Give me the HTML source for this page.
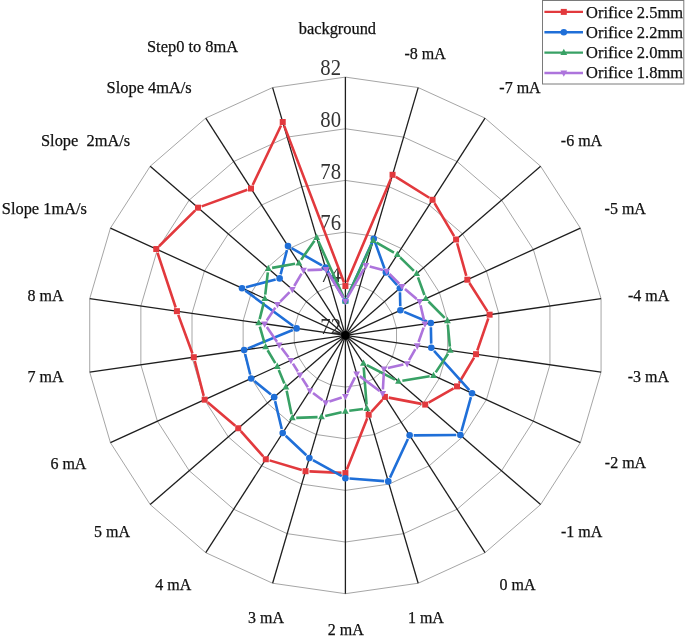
<!DOCTYPE html>
<html><head><meta charset="utf-8"><style>html,body{margin:0;padding:0;background:#fff;}svg{display:block;will-change:transform;}text{font-family:"Liberation Serif",serif;}</style></head><body>
<svg width="685" height="642" viewBox="0 0 685 642">
<rect width="685" height="642" fill="#fff"/>
<polygon points="345.4,283.74 359.95,285.83 373.33,291.94 384.44,301.57 392.39,313.94 396.53,328.05 396.53,342.75 392.39,356.86 384.44,369.23 373.33,378.86 359.95,384.97 345.4,387.06 330.85,384.97 317.47,378.86 306.36,369.23 298.41,356.86 294.27,342.75 294.27,328.05 298.41,313.94 306.36,301.57 317.47,291.94 330.85,285.83" fill="none" stroke="#a6a6a6" stroke-width="1"/>
<polygon points="345.4,232.08 374.51,236.27 401.26,248.48 423.48,267.74 439.38,292.48 447.67,320.7 447.67,350.1 439.38,378.32 423.48,403.06 401.26,422.32 374.51,434.53 345.4,438.72 316.29,434.53 289.54,422.32 267.32,403.06 251.42,378.32 243.13,350.1 243.13,320.7 251.42,292.48 267.32,267.74 289.54,248.48 316.29,236.27" fill="none" stroke="#a6a6a6" stroke-width="1"/>
<polygon points="345.4,180.42 389.06,186.7 429.19,205.02 462.53,233.91 486.37,271.02 498.8,313.34 498.8,357.46 486.37,399.78 462.53,436.89 429.19,465.78 389.06,484.1 345.4,490.38 301.74,484.1 261.61,465.78 228.27,436.89 204.43,399.78 192,357.46 192,313.34 204.43,271.02 228.27,233.91 261.61,205.02 301.74,186.7" fill="none" stroke="#a6a6a6" stroke-width="1"/>
<polygon points="345.4,128.76 403.62,137.13 457.12,161.56 501.57,200.08 533.37,249.56 549.94,305.99 549.94,364.81 533.37,421.24 501.57,470.72 457.12,509.24 403.62,533.67 345.4,542.04 287.18,533.67 233.68,509.24 189.23,470.72 157.43,421.24 140.86,364.81 140.86,305.99 157.43,249.56 189.23,200.08 233.68,161.56 287.18,137.13" fill="none" stroke="#a6a6a6" stroke-width="1"/>
<polygon points="345.4,77.1 418.17,87.56 485.05,118.1 540.61,166.25 580.36,228.1 601.07,298.64 601.07,372.16 580.36,442.7 540.61,504.55 485.05,552.7 418.17,583.24 345.4,593.7 272.63,583.24 205.75,552.7 150.19,504.55 110.44,442.7 89.73,372.16 89.73,298.64 110.44,228.1 150.19,166.25 205.75,118.1 272.63,87.56" fill="none" stroke="#a6a6a6" stroke-width="1"/>
<text transform="translate(341.0,333.6) scale(0.9,1)" font-size="23" fill="#333" text-anchor="end">72</text>
<text transform="translate(341.0,281.94) scale(0.9,1)" font-size="23" fill="#333" text-anchor="end">74</text>
<text transform="translate(341.0,230.28) scale(0.9,1)" font-size="23" fill="#333" text-anchor="end">76</text>
<text transform="translate(341.0,178.62) scale(0.9,1)" font-size="23" fill="#333" text-anchor="end">78</text>
<text transform="translate(341.0,126.96) scale(0.9,1)" font-size="23" fill="#333" text-anchor="end">80</text>
<text transform="translate(341.0,75.3) scale(0.9,1)" font-size="23" fill="#333" text-anchor="end">82</text>
<line x1="345.4" y1="335.4" x2="345.4" y2="77.1" stroke="#1e1e1e" stroke-width="1.3"/>
<line x1="345.4" y1="335.4" x2="418.17" y2="87.56" stroke="#1e1e1e" stroke-width="1.3"/>
<line x1="345.4" y1="335.4" x2="485.05" y2="118.1" stroke="#1e1e1e" stroke-width="1.3"/>
<line x1="345.4" y1="335.4" x2="540.61" y2="166.25" stroke="#1e1e1e" stroke-width="1.3"/>
<line x1="345.4" y1="335.4" x2="580.36" y2="228.1" stroke="#1e1e1e" stroke-width="1.3"/>
<line x1="345.4" y1="335.4" x2="601.07" y2="298.64" stroke="#1e1e1e" stroke-width="1.3"/>
<line x1="345.4" y1="335.4" x2="601.07" y2="372.16" stroke="#1e1e1e" stroke-width="1.3"/>
<line x1="345.4" y1="335.4" x2="580.36" y2="442.7" stroke="#1e1e1e" stroke-width="1.3"/>
<line x1="345.4" y1="335.4" x2="540.61" y2="504.55" stroke="#1e1e1e" stroke-width="1.3"/>
<line x1="345.4" y1="335.4" x2="485.05" y2="552.7" stroke="#1e1e1e" stroke-width="1.3"/>
<line x1="345.4" y1="335.4" x2="418.17" y2="583.24" stroke="#1e1e1e" stroke-width="1.3"/>
<line x1="345.4" y1="335.4" x2="345.4" y2="593.7" stroke="#1e1e1e" stroke-width="1.3"/>
<line x1="345.4" y1="335.4" x2="272.63" y2="583.24" stroke="#1e1e1e" stroke-width="1.3"/>
<line x1="345.4" y1="335.4" x2="205.75" y2="552.7" stroke="#1e1e1e" stroke-width="1.3"/>
<line x1="345.4" y1="335.4" x2="150.19" y2="504.55" stroke="#1e1e1e" stroke-width="1.3"/>
<line x1="345.4" y1="335.4" x2="110.44" y2="442.7" stroke="#1e1e1e" stroke-width="1.3"/>
<line x1="345.4" y1="335.4" x2="89.73" y2="372.16" stroke="#1e1e1e" stroke-width="1.3"/>
<line x1="345.4" y1="335.4" x2="89.73" y2="298.64" stroke="#1e1e1e" stroke-width="1.3"/>
<line x1="345.4" y1="335.4" x2="110.44" y2="228.1" stroke="#1e1e1e" stroke-width="1.3"/>
<line x1="345.4" y1="335.4" x2="150.19" y2="166.25" stroke="#1e1e1e" stroke-width="1.3"/>
<line x1="345.4" y1="335.4" x2="205.75" y2="118.1" stroke="#1e1e1e" stroke-width="1.3"/>
<line x1="345.4" y1="335.4" x2="272.63" y2="87.56" stroke="#1e1e1e" stroke-width="1.3"/>
<circle cx="345.4" cy="335.4" r="4.3" fill="#000"/>
<path d="M346.92 282.47L391.03 178.39M395.86 176.87L429.23 197.74M434.53 203.16L454.09 236.14M457.14 243.25L466.29 275.95M469.44 283L487.5 311.38M488.33 318.36L477.31 350.5M474.06 357.54L458.99 383.01M453.62 388.31L428.62 402.64M421.41 403.85L388.75 397.63M382.29 399.78L371.31 411.83M367.24 418.33L346.85 469.45M341.5 472.89L309.42 471.4M301.79 470.09L269.54 460.38M263.21 456.34L240.82 431.18M235.26 425.73L207.63 402.2M203.69 395.9L194.75 360.98M192.44 353.54L178.26 314.84M175.68 307.47L157.49 252.72M159.03 246.28L195.24 210.43M201.68 206.36L247.33 189.84M252.68 184.99L281.06 125.53M284.14 125.66L344.01 282.42" fill="none" stroke="#e2393d" stroke-width="2.6"/>
<rect x="342.4" y="283.06" width="6.0" height="6.0" fill="#e2393d"/>
<rect x="389.56" y="171.8" width="6.0" height="6.0" fill="#e2393d"/>
<rect x="429.54" y="196.81" width="6.0" height="6.0" fill="#e2393d"/>
<rect x="453.08" y="236.49" width="6.0" height="6.0" fill="#e2393d"/>
<rect x="464.34" y="276.71" width="6.0" height="6.0" fill="#e2393d"/>
<rect x="486.6" y="311.67" width="6.0" height="6.0" fill="#e2393d"/>
<rect x="473.05" y="351.18" width="6.0" height="6.0" fill="#e2393d"/>
<rect x="454.01" y="383.37" width="6.0" height="6.0" fill="#e2393d"/>
<rect x="422.24" y="401.58" width="6.0" height="6.0" fill="#e2393d"/>
<rect x="381.92" y="393.89" width="6.0" height="6.0" fill="#e2393d"/>
<rect x="365.69" y="411.71" width="6.0" height="6.0" fill="#e2393d"/>
<rect x="342.4" y="470.07" width="6.0" height="6.0" fill="#e2393d"/>
<rect x="302.52" y="468.21" width="6.0" height="6.0" fill="#e2393d"/>
<rect x="262.8" y="456.26" width="6.0" height="6.0" fill="#e2393d"/>
<rect x="235.23" y="425.26" width="6.0" height="6.0" fill="#e2393d"/>
<rect x="201.66" y="396.67" width="6.0" height="6.0" fill="#e2393d"/>
<rect x="190.79" y="354.2" width="6.0" height="6.0" fill="#e2393d"/>
<rect x="173.91" y="308.18" width="6.0" height="6.0" fill="#e2393d"/>
<rect x="153.26" y="246.02" width="6.0" height="6.0" fill="#e2393d"/>
<rect x="195.02" y="204.69" width="6.0" height="6.0" fill="#e2393d"/>
<rect x="248" y="185.51" width="6.0" height="6.0" fill="#e2393d"/>
<rect x="279.74" y="119.01" width="6.0" height="6.0" fill="#e2393d"/>
<path d="M347.1 297.31L372.08 242.47M375.17 242.6L384.51 268.53M388.61 275.46L397.15 285.13M399.96 292.31L400.28 306.19M404.16 311.89L427.02 321.53M430.88 327.22L431.22 343.65M434.04 350.81L469.31 390.18M470.94 397.18L461.48 431.08M456.28 435.06L413.74 435.33M407.91 439.07L389.99 477.66M384.17 481.08L349.49 478.54M341.82 476.24L312.96 460.08M306.39 455.27L285.68 435.78M281.75 428.98L275.1 401.13M270.97 394.55L254.36 381.02M250.2 374.45L245.14 353.94M247.95 348.4L292.78 329.94M293.27 325.95L245.32 290.62M245.99 287.15L275.65 279.43M280.64 274.43L286.97 250.06M291.56 248.13L321.9 265.46M327.56 271.02L343.31 297.52" fill="none" stroke="#1f6fd8" stroke-width="2.6"/>
<circle cx="345.4" cy="301.05" r="3.3" fill="#1f6fd8"/>
<circle cx="373.78" cy="238.74" r="3.3" fill="#1f6fd8"/>
<circle cx="385.9" cy="272.38" r="3.3" fill="#1f6fd8"/>
<circle cx="399.86" cy="288.21" r="3.3" fill="#1f6fd8"/>
<circle cx="400.38" cy="310.29" r="3.3" fill="#1f6fd8"/>
<circle cx="430.79" cy="323.12" r="3.3" fill="#1f6fd8"/>
<circle cx="431.31" cy="347.75" r="3.3" fill="#1f6fd8"/>
<circle cx="472.04" cy="393.24" r="3.3" fill="#1f6fd8"/>
<circle cx="460.38" cy="435.03" r="3.3" fill="#1f6fd8"/>
<circle cx="409.64" cy="435.36" r="3.3" fill="#1f6fd8"/>
<circle cx="388.26" cy="481.38" r="3.3" fill="#1f6fd8"/>
<circle cx="345.4" cy="478.24" r="3.3" fill="#1f6fd8"/>
<circle cx="309.38" cy="458.08" r="3.3" fill="#1f6fd8"/>
<circle cx="282.7" cy="432.97" r="3.3" fill="#1f6fd8"/>
<circle cx="274.15" cy="397.14" r="3.3" fill="#1f6fd8"/>
<circle cx="251.18" cy="378.43" r="3.3" fill="#1f6fd8"/>
<circle cx="244.15" cy="349.96" r="3.3" fill="#1f6fd8"/>
<circle cx="296.57" cy="328.38" r="3.3" fill="#1f6fd8"/>
<circle cx="242.02" cy="288.19" r="3.3" fill="#1f6fd8"/>
<circle cx="279.61" cy="278.4" r="3.3" fill="#1f6fd8"/>
<circle cx="288" cy="246.09" r="3.3" fill="#1f6fd8"/>
<circle cx="325.46" cy="267.49" r="3.3" fill="#1f6fd8"/>
<path d="M347.03 297.5L371.57 244.27M376.58 242.67L393.97 252.63M400.12 257.31L413.88 270.92M417.98 277.33L424.42 295.04M428.49 301.48L444.68 317.95M447.78 324.62L449.86 346.59M448.07 353.72L435.67 372.39M429.66 376.27L402.35 380.77M395.03 379.63L366.89 365.21M363.71 367.32L366.57 404.62M363 409.02L349.27 410.83M341.6 412.23L325.26 416.05M317.56 417.08L296.23 417.83M291.54 414.15L286.66 390.81M284.35 383.4L278.77 370.11M275.28 363.16L267.62 350.23M264.55 343.12L259.81 326.69M259.67 319.15L263.86 302.38M265.26 294.72L267.84 272.46M272.13 267.89L295.06 263.74M301.12 259.84L314.43 240.71M318.26 241.06L343.79 297.49" fill="none" stroke="#38a165" stroke-width="2.6"/>
<polygon points="345.4,297.14 342,303.44 348.8,303.44" fill="#38a165"/>
<polygon points="373.2,236.82 369.8,243.12 376.6,243.12" fill="#38a165"/>
<polygon points="397.35,250.66 393.95,256.96 400.75,256.96" fill="#38a165"/>
<polygon points="416.65,269.75 413.25,276.05 420.05,276.05" fill="#38a165"/>
<polygon points="425.76,294.8 422.36,301.1 429.16,301.1" fill="#38a165"/>
<polygon points="447.41,316.83 444.01,323.13 450.81,323.13" fill="#38a165"/>
<polygon points="450.23,346.57 446.83,352.87 453.63,352.87" fill="#38a165"/>
<polygon points="433.51,371.73 430.11,378.03 436.91,378.03" fill="#38a165"/>
<polygon points="398.5,377.5 395.1,383.8 401.9,383.8" fill="#38a165"/>
<polygon points="363.41,359.53 360.01,365.83 366.81,365.83" fill="#38a165"/>
<polygon points="366.87,404.61 363.47,410.91 370.27,410.91" fill="#38a165"/>
<polygon points="345.4,407.43 342,413.73 348.8,413.73" fill="#38a165"/>
<polygon points="321.46,413.03 318.06,419.33 324.86,419.33" fill="#38a165"/>
<polygon points="292.33,414.07 288.93,420.37 295.73,420.37" fill="#38a165"/>
<polygon points="285.86,383.08 282.46,389.38 289.26,389.38" fill="#38a165"/>
<polygon points="277.26,362.61 273.86,368.91 280.66,368.91" fill="#38a165"/>
<polygon points="265.63,342.96 262.23,349.26 269.03,349.26" fill="#38a165"/>
<polygon points="258.73,319.03 255.33,325.33 262.13,325.33" fill="#38a165"/>
<polygon points="264.81,294.69 261.41,300.99 268.21,300.99" fill="#38a165"/>
<polygon points="268.29,264.68 264.89,270.98 271.69,270.98" fill="#38a165"/>
<polygon points="298.9,259.13 295.5,265.43 302.3,265.43" fill="#38a165"/>
<polygon points="316.66,233.6 313.26,239.9 320.06,239.9" fill="#38a165"/>
<path d="M347.35 297.67L363.97 268.89M369.69 266.52L382.97 270.07M389.49 273.84L399.25 283.59M404.97 288.89L416.69 298.95M420.54 305.29L424.02 320.17M423.62 327.65L418.54 342.05M415.33 349.13L409.1 360.22M403.39 364.49L387.85 368.03M383.83 372.79L382.9 389.52M379.57 391.07L359.79 376.16M354.93 377.3L347.15 392.87M341.68 397.53L329.4 401.39M322.57 400.2L313.03 392.95M307.84 387.3L302.01 378.11M297.86 371.5L292.95 363.61M288.53 357.19L281.54 348.02M276.97 341.71L266.82 326.99M266.77 320.54L275.34 307.64M280.24 301.61L289.56 292.17M294.27 286.02L301.54 273.58M307.4 270.08L322.14 269.6M328.08 272.8L343.36 297.72" fill="none" stroke="#ad74dc" stroke-width="2.6"/>
<polygon points="345.4,304.95 342,298.65 348.8,298.65" fill="#ad74dc"/>
<polygon points="365.92,269.42 362.52,263.12 369.32,263.12" fill="#ad74dc"/>
<polygon points="386.74,274.99 383.34,268.69 390.14,268.69" fill="#ad74dc"/>
<polygon points="402.01,290.25 398.61,283.95 405.41,283.95" fill="#ad74dc"/>
<polygon points="419.65,305.4 416.25,299.1 423.05,299.1" fill="#ad74dc"/>
<polygon points="424.91,327.87 421.51,321.57 428.31,321.57" fill="#ad74dc"/>
<polygon points="417.24,349.64 413.84,343.34 420.64,343.34" fill="#ad74dc"/>
<polygon points="407.19,367.53 403.79,361.23 410.59,361.23" fill="#ad74dc"/>
<polygon points="384.05,372.8 380.65,366.5 387.45,366.5" fill="#ad74dc"/>
<polygon points="382.69,397.32 379.29,391.02 386.09,391.02" fill="#ad74dc"/>
<polygon points="356.68,377.72 353.28,371.42 360.08,371.42" fill="#ad74dc"/>
<polygon points="345.4,400.26 342,393.96 348.8,393.96" fill="#ad74dc"/>
<polygon points="325.68,406.47 322.28,400.17 329.08,400.17" fill="#ad74dc"/>
<polygon points="309.93,394.5 306.53,388.2 313.33,388.2" fill="#ad74dc"/>
<polygon points="299.92,378.72 296.52,372.42 303.32,372.42" fill="#ad74dc"/>
<polygon points="290.89,364.2 287.49,357.9 294.29,357.9" fill="#ad74dc"/>
<polygon points="279.18,348.83 275.78,342.53 282.58,342.53" fill="#ad74dc"/>
<polygon points="264.61,327.69 261.21,321.39 268.01,321.39" fill="#ad74dc"/>
<polygon points="277.5,308.3 274.1,302 280.9,302" fill="#ad74dc"/>
<polygon points="292.3,293.3 288.9,287 295.7,287" fill="#ad74dc"/>
<polygon points="303.51,274.12 300.11,267.82 306.91,267.82" fill="#ad74dc"/>
<polygon points="326.04,273.38 322.64,267.08 329.44,267.08" fill="#ad74dc"/>
<text x="298.7" y="33.6" font-size="16.4" fill="#111" stroke="#111" stroke-width="0.25">background</text>
<text x="404.5" y="59.2" font-size="16.0" fill="#111" stroke="#111" stroke-width="0.25">-8 mA</text>
<text x="499.3" y="92.6" font-size="16.0" fill="#111" stroke="#111" stroke-width="0.25">-7 mA</text>
<text x="560.8" y="145.5" font-size="16.0" fill="#111" stroke="#111" stroke-width="0.25">-6 mA</text>
<text x="604.6" y="213.6" font-size="16.0" fill="#111" stroke="#111" stroke-width="0.25">-5 mA</text>
<text x="627.9" y="300.9" font-size="16.0" fill="#111" stroke="#111" stroke-width="0.25">-4 mA</text>
<text x="627.7" y="381.7" font-size="16.0" fill="#111" stroke="#111" stroke-width="0.25">-3 mA</text>
<text x="604.8" y="468.4" font-size="16.0" fill="#111" stroke="#111" stroke-width="0.25">-2 mA</text>
<text x="561" y="536.8" font-size="16.0" fill="#111" stroke="#111" stroke-width="0.25">-1 mA</text>
<text x="499.6" y="589.5" font-size="16.0" fill="#111" stroke="#111" stroke-width="0.25">0 mA</text>
<text x="407.9" y="622.7" font-size="16.0" fill="#111" stroke="#111" stroke-width="0.25">1 mA</text>
<text x="327.7" y="634.7" font-size="16.0" fill="#111" stroke="#111" stroke-width="0.25">2 mA</text>
<text x="248" y="622.7" font-size="16.0" fill="#111" stroke="#111" stroke-width="0.25">3 mA</text>
<text x="155.3" y="589.8" font-size="16.0" fill="#111" stroke="#111" stroke-width="0.25">4 mA</text>
<text x="94" y="536.8" font-size="16.0" fill="#111" stroke="#111" stroke-width="0.25">5 mA</text>
<text x="50.4" y="468.9" font-size="16.0" fill="#111" stroke="#111" stroke-width="0.25">6 mA</text>
<text x="27.6" y="381.9" font-size="16.0" fill="#111" stroke="#111" stroke-width="0.25">7 mA</text>
<text x="27.6" y="300.6" font-size="16.0" fill="#111" stroke="#111" stroke-width="0.25">8 mA</text>
<text x="1.8" y="213.5" font-size="16.4" fill="#111" stroke="#111" stroke-width="0.25">Slope 1mA/s</text>
<text x="41" y="146.2" font-size="16.4" fill="#111" stroke="#111" stroke-width="0.25">Slope  2mA/s</text>
<text x="106.6" y="93.1" font-size="16.4" fill="#111" stroke="#111" stroke-width="0.25">Slope 4mA/s</text>
<text x="147" y="51.5" font-size="16.4" fill="#111" stroke="#111" stroke-width="0.25">Step0 to 8mA</text>
<rect x="542.5" y="0.5" width="141.29999999999995" height="83.5" fill="#fff" stroke="#7a7a7a" stroke-width="1"/>
<line x1="544.4" y1="11.9" x2="583" y2="11.9" stroke="#e2393d" stroke-width="2.4"/>
<rect x="560.8" y="8.9" width="6.0" height="6.0" fill="#e2393d"/>
<text x="586" y="17.5" font-size="16.5" fill="#111" stroke="#111" stroke-width="0.25">Orifice 2.5mm</text>
<line x1="544.4" y1="32.25" x2="583" y2="32.25" stroke="#1f6fd8" stroke-width="2.4"/>
<circle cx="563.8" cy="32.25" r="3.3" fill="#1f6fd8"/>
<text x="586" y="37.7" font-size="16.5" fill="#111" stroke="#111" stroke-width="0.25">Orifice 2.2mm</text>
<line x1="544.4" y1="52.6" x2="583" y2="52.6" stroke="#38a165" stroke-width="2.4"/>
<polygon points="563.8,48.69 560.4,54.99 567.2,54.99" fill="#38a165"/>
<text x="586" y="57.9" font-size="16.5" fill="#111" stroke="#111" stroke-width="0.25">Orifice 2.0mm</text>
<line x1="544.4" y1="72.95" x2="583" y2="72.95" stroke="#ad74dc" stroke-width="2.4"/>
<polygon points="563.8,76.86 560.4,70.56 567.2,70.56" fill="#ad74dc"/>
<text x="586" y="78.1" font-size="16.5" fill="#111" stroke="#111" stroke-width="0.25">Orifice 1.8mm</text>
</svg></body></html>
